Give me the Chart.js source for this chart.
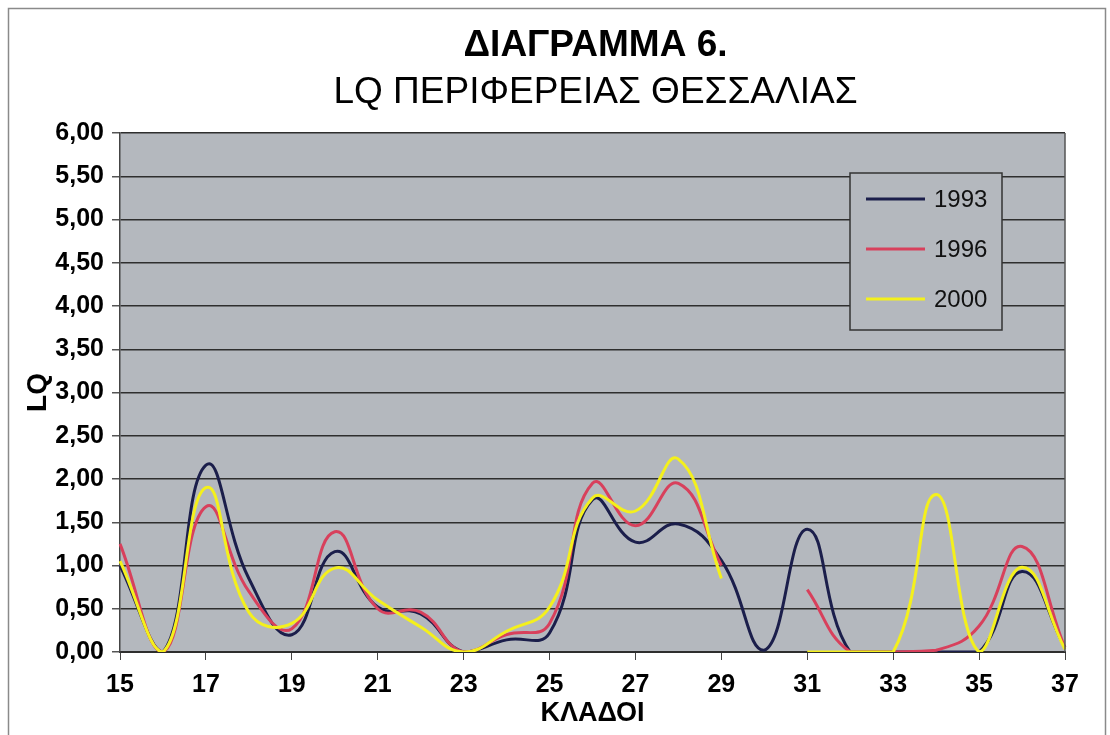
<!DOCTYPE html>
<html lang="el">
<head>
    <meta charset="UTF-8">
    <title>ΔΙΑΓΡΑΜΜΑ 6. LQ ΠΕΡΙΦΕΡΕΙΑΣ ΘΕΣΣΑΛΙΑΣ</title>
    <script src="https://cdn.jsdelivr.net/npm/chart.js"></script>
    <style>
        html, body {
            margin: 0;
            padding: 0;
            background: #ffffff;
        }
        #wrap {
            width: 1110px;
            height: 735px;
            position: relative;
        }
    </style>
</head>
<body>
    <div id="wrap">
        <canvas id="lqChart" width="1110" height="735"></canvas>
    </div>

    <script>
        // Κλάδοι (άξονας Χ)
        const branches = ['15','16','17','18','19','20','21','22','23','24','25','26',
                          '27','28','29','30','31','32','33','34','35','36','37'];

        // LQ ανά έτος (null = κενό στη σειρά)
        const lq1993 = [1.00, 0.00, 2.16, 0.85, 0.20, 1.16, 0.52, 0.44, 0.00, 0.14, 0.22, 1.76,
                        1.27, 1.48, 1.06, 0.02, 1.42, 0.00, 0.00, 0.00, 0.00, 0.93, 0.05];
        const lq1996 = [1.25, 0.00, 1.68, 0.70, 0.27, 1.39, 0.50, 0.46, 0.00, 0.20, 0.33, 1.95,
                        1.46, 1.95, 1.00, null, 0.72, 0.00, 0.00, 0.02, 0.30, 1.22, 0.05];
        const lq2000 = [1.05, 0.00, 1.90, 0.46, 0.33, 0.97, 0.60, 0.29, 0.00, 0.24, 0.52, 1.78,
                        1.63, 2.23, 0.85, null, 0.00, 0.00, 0.00, 1.82, 0.00, 0.98, 0.03];

        const seriesNames = ['1993', '1996', '2000'];
        const seriesColors = ['#1b1e4b', '#d8405c', '#f4f01c'];

        const titleLines = ['ΔΙΑΓΡΑΜΜΑ 6.', 'LQ ΠΕΡΙΦΕΡΕΙΑΣ ΘΕΣΣΑΛΙΑΣ'];

        const yTicks = { min: 0, max: 6, step: 0.5 };

        const plotGray = '#b4b8be';
        const gridDark = '#2e2e2e';
        const fontFam = "'Liberation Sans', Arial, sans-serif";

        // φόντο, πλαίσιο και τίτλοι
        const backdrop = {
            id: 'backdrop',
            beforeDraw(chart) {
                const { ctx, chartArea: a } = chart;
                ctx.save();
                ctx.strokeStyle = '#8a8a8a';
                ctx.lineWidth = 1.5;
                ctx.strokeRect(8.5, 8.5, 1097, 760);
                ctx.fillStyle = plotGray;
                ctx.fillRect(a.left, a.top, a.right - a.left, a.bottom - a.top);
                ctx.restore();
            },
            afterDraw(chart) {
                const { ctx, chartArea: a } = chart;
                const cx = (a.left + a.right) / 2 + 3;
                ctx.save();
                ctx.strokeStyle = '#555';
                ctx.lineWidth = 1.5;
                ctx.beginPath();
                ctx.moveTo(a.right, a.top);
                ctx.lineTo(a.right, a.bottom);
                ctx.stroke();

                ctx.fillStyle = '#000';
                ctx.textAlign = 'center';
                ctx.textBaseline = 'middle';
                ctx.font = 'bold 37px ' + fontFam;
                ctx.fillText(titleLines[0], cx, 46);
                ctx.font = '37px ' + fontFam;
                ctx.fillText(titleLines[1], cx, 93);
                ctx.restore();
            }
        };

        // υπόμνημα μέσα στην περιοχή σχεδίασης
        const boxLegend = {
            id: 'boxLegend',
            afterDatasetsDraw(chart) {
                const ctx = chart.ctx;
                const x = 850, y = 173, w = 152, h = 157;
                ctx.save();
                ctx.fillStyle = plotGray;
                ctx.fillRect(x, y, w, h);
                ctx.strokeStyle = '#333';
                ctx.lineWidth = 1.5;
                ctx.strokeRect(x, y, w, h);
                ctx.font = '24px ' + fontFam;
                ctx.textBaseline = 'middle';
                ctx.fillStyle = '#111';
                chart.data.datasets.forEach((ds, i) => {
                    const ly = 199 + i * 50;
                    ctx.strokeStyle = ds.borderColor;
                    ctx.lineWidth = 3;
                    ctx.beginPath();
                    ctx.moveTo(866, ly);
                    ctx.lineTo(925, ly);
                    ctx.stroke();
                    ctx.fillText(ds.label, 934, ly + 1);
                });
                ctx.restore();
            }
        };

        const allData = [lq1993, lq1996, lq2000];

        const ctx = document.getElementById('lqChart').getContext('2d');
        const lqChart = new Chart(ctx, {
            type: 'line',
            data: {
                labels: branches,
                datasets: allData.map((vals, i) => ({
                    label: seriesNames[i],
                    data: vals,
                    borderColor: seriesColors[i],
                    borderWidth: 3,
                    pointRadius: 0,
                    tension: 0.45,
                    spanGaps: false,
                    fill: false,
                    order: 3 - i
                }))
            },
            options: {
                responsive: false,
                animation: false,
                layout: {
                    padding: { left: 0, right: 45, top: 133, bottom: 0 }
                },
                plugins: {
                    legend: { display: false },
                    tooltip: { enabled: false },
                    title: { display: false }
                },
                scales: {
                    x: {
                        offset: false,
                        afterFit(scale) { scale.height = 83; },
                        grid: {
                            display: true,
                            drawOnChartArea: false,
                            drawTicks: true,
                            tickLength: 8,
                            color: (c) => (c.index % 2 === 0 ? '#444' : 'rgba(0,0,0,0)')
                        },
                        border: { display: true, color: gridDark, width: 2 },
                        ticks: {
                            autoSkip: false,
                            maxRotation: 0,
                            padding: 10,
                            color: '#000',
                            font: { family: fontFam, size: 25, weight: 'bold' },
                            callback: function (val, i) {
                                return i % 2 === 0 ? this.getLabelForValue(val) : '';
                            }
                        },
                        title: {
                            display: true,
                            text: 'ΚΛΑΔΟΙ',
                            color: '#000',
                            font: { family: fontFam, size: 27, weight: 'bold', lineHeight: 1.1 },
                            padding: { top: 0, bottom: 7 }
                        }
                    },
                    y: {
                        min: yTicks.min,
                        max: yTicks.max,
                        afterFit(scale) { scale.width = 120; },
                        grid: {
                            color: gridDark,
                            lineWidth: 1.5,
                            drawTicks: true,
                            tickLength: 8,
                            tickColor: '#555'
                        },
                        border: { display: true, color: '#444', width: 1.5 },
                        ticks: {
                            stepSize: yTicks.step,
                            padding: 8,
                            color: '#000',
                            font: { family: fontFam, size: 25, weight: 'bold' },
                            callback: (v) => v.toFixed(2).replace('.', ',')
                        },
                        title: {
                            display: true,
                            text: 'LQ',
                            color: '#000',
                            font: { family: fontFam, size: 28, weight: 'bold', lineHeight: 1.2 },
                            padding: { top: 21, bottom: 0 }
                        }
                    }
                }
            },
            plugins: [backdrop, boxLegend]
        });
    </script>
</body>
</html>
